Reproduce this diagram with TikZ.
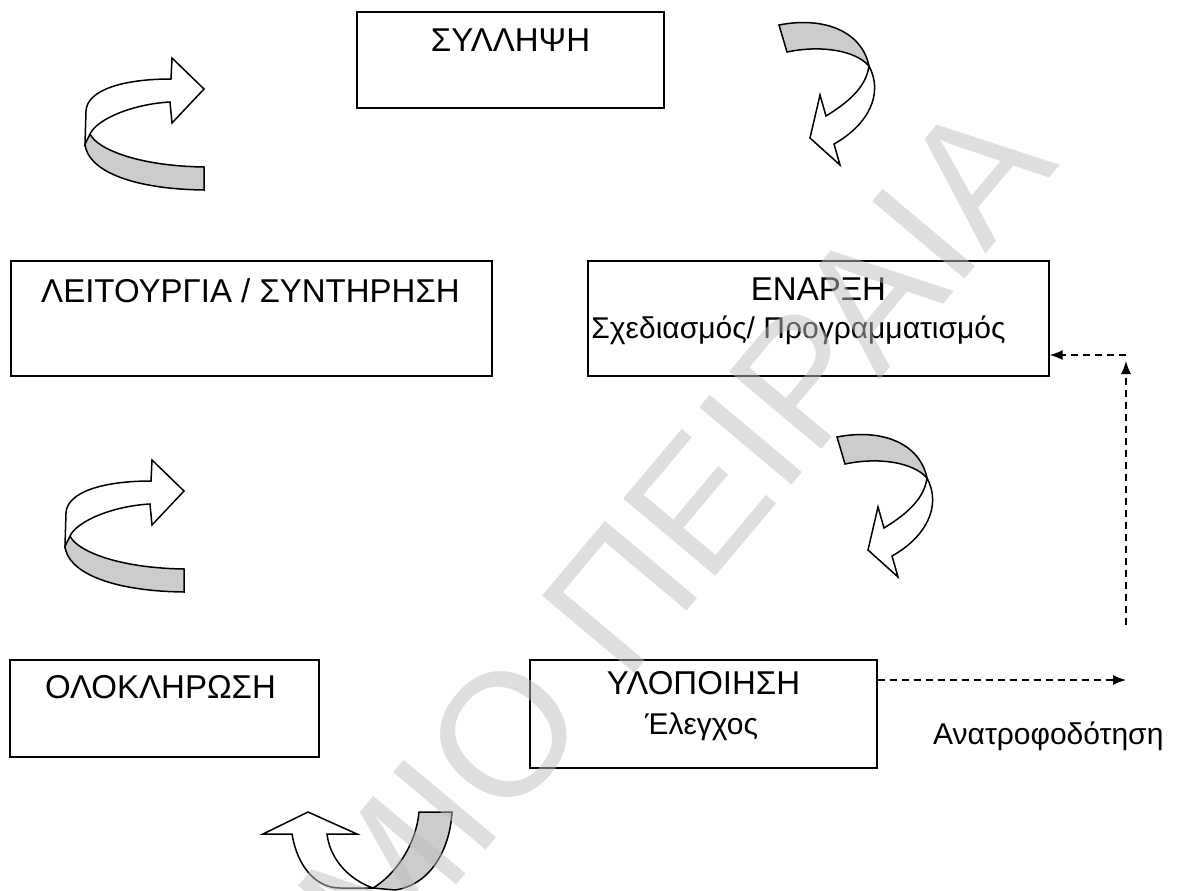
\documentclass[tikz,border=0pt]{standalone}
\usepackage{fontspec}
\setmainfont{Liberation Sans}
\usetikzlibrary{arrows.meta}

\definecolor{backgray}{RGB}{204,204,204}
\definecolor{wmgray}{RGB}{190,190,190}

\tikzset{
  stage/.style={draw,line width=1.3pt,inner sep=0pt},
  stagetitle/.style={anchor=base,inner sep=0pt,font=\fontsize{33}{39}\selectfont},
  stagenote/.style={anchor=base,inner sep=0pt,font=\fontsize{30}{36}\selectfont},
  frontface/.style={draw,line width=1.5pt,fill=white},
  backface/.style={draw,line width=1.5pt,fill=backgray},
  feedback/.style={line width=1.3pt,dash pattern=on 7pt off 5pt,-{Latex[length=13pt,width=10pt]}},
  watermark/.style={inner sep=0pt,text=wmgray,text opacity=0.5,font=\fontsize{175}{175}\selectfont}
}

% ribbon arrow turning round on the left, head to the right
\newcommand{\leftturn}[1]{%
  \begin{scope}[shift={#1}]
    \draw[backface] (90,134) .. controls (97,149) and (138,166) .. (204,167) -- (204,190)
      .. controls (128,189) and (87,169) .. (85,144) -- cycle;
    \draw[frontface] (86,111) .. controls (87,90) and (123,79) .. (171,79) -- (172,58) -- (204,89)
      -- (172,123) -- (170,102) .. controls (133,104) and (97,119) .. (90,134) -- (85,144) -- cycle;
  \end{scope}}

% ribbon arrow turning round on the right, head down to the left
\newcommand{\rightturn}[1]{%
  \begin{scope}[shift={#1}]
    \draw[backface] (779,25) .. controls (825,16) and (862,32) .. (869,66)
      .. controls (855,50) and (820,45) .. (787,52) -- cycle;
    \draw[frontface] (869,66) .. controls (884,94) and (868,125) .. (834,144) -- (840,165) -- (810,138)
      -- (820,95) -- (826,116) .. controls (847,103) and (866,88) .. (869,66) -- cycle;
  \end{scope}}

\begin{document}
\begin{tikzpicture}[x=1pt,y=-1pt,line join=miter]
  \useasboundingbox (0,0) rectangle (1178,891);

  % stages
  \node[stage,minimum width=307pt,minimum height=96pt] (syl) at (510.5,60) {};
  \node[stage,minimum width=481pt,minimum height=115pt] (leit) at (251.5,318.5) {};
  \node[stage,minimum width=461pt,minimum height=115pt] (enar) at (818.5,318.5) {};
  \node[stage,minimum width=309pt,minimum height=97pt] (olok) at (164.5,708.5) {};
  \node[stage,minimum width=347pt,minimum height=108pt] (ylop) at (703.5,714) {};

  \node[stagetitle] (sylT) at ([yshift=-40pt]syl.north) {ΣΥΛΛΗΨΗ};
  \node[stagetitle] (leitT) at ([xshift=-1pt,yshift=-42pt]leit.north) {ΛΕΙΤΟΥΡΓΙΑ / ΣΥΝΤΗΡΗΣΗ};
  \node[stagetitle] (enarT) at ([yshift=-40pt]enar.north) {ΕΝΑΡΞΗ};
  \node[stagenote] (enarN) at ([xshift=-20pt,yshift=-78pt]enar.north) {Σχεδιασμός/ Προγραμματισμός};
  \node[stagetitle] (olokT) at ([xshift=-4pt,yshift=-39pt]olok.north) {ΟΛΟΚΛΗΡΩΣΗ};
  \node[stagetitle] (ylopT) at ([yshift=-35pt]ylop.north) {ΥΛΟΠΟΙΗΣΗ};
  \node[stagenote] (ylopN) at ([xshift=-2pt,yshift=-75pt]ylop.north) {Έλεγχος};
  \node[stagenote,anchor=base west] (fbLabel) at (933,744) {Ανατροφοδότηση};

  % feedback loop
  \coordinate (fbEnd) at (1126,680);
  \coordinate (upFoot) at (1126,625);
  \coordinate (upTip) at (1126,361);
  \coordinate (upCorner) at (1126,355);
  \draw[feedback] (ylop.east |- fbEnd) -- (fbEnd);
  \draw[feedback] (upFoot) -- (upTip);
  \draw[feedback] (upCorner) -- (enar.east |- upCorner);

  % turning arrows
  \leftturn{(0,0)}
  \leftturn{(-20,402)}
  \rightturn{(0,0)}
  \rightturn{(58,412)}
  \draw[backface] (373,888) .. controls (395,875) and (416,845) .. (419,812) -- (452,812)
    .. controls (450,850) and (430,885) .. (395,890) -- cycle;
  \draw[frontface] (292,834) .. controls (297,865) and (315,888) .. (340,888) -- (373,888)
    .. controls (350,880) and (330,860) .. (327,834) -- (357,834) -- (308,812) -- (263,834) -- cycle;

  \node[watermark,rotate=50] (wm) at (675,531) {ΜΙΟ ΠΕΙΡΑΙΑ};
\end{tikzpicture}
\end{document}
